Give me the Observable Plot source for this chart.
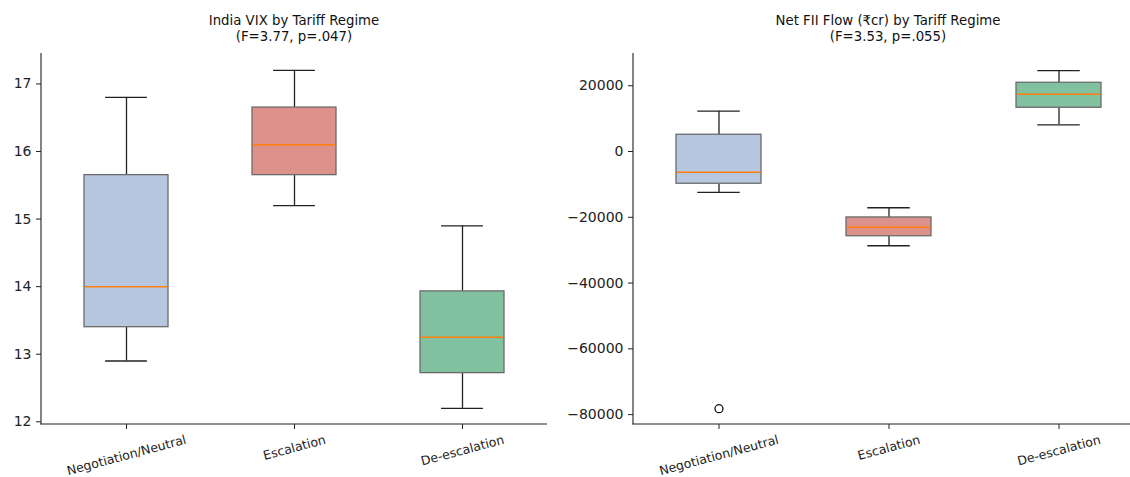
<!DOCTYPE html>
<html><head><meta charset="utf-8">
<script src="https://cdn.jsdelivr.net/npm/d3@7"></script>
<script src="https://cdn.jsdelivr.net/npm/@observablehq/plot@0.6"></script>
<style>
html,body{margin:0;padding:0;background:#fff;overflow:hidden;width:1130px;height:477px;}
#wrap{position:relative;width:1130px;height:477px;overflow:hidden;font-family:"DejaVu Sans",sans-serif;}
.panel{position:absolute;top:0;}
.title{position:absolute;top:13px;width:420px;text-align:center;font-size:13.3px;line-height:16px;color:#111;white-space:nowrap;}
</style></head><body><div id="wrap"></div>
<script>
// ---- data ----
const categories = ["Negotiation/Neutral", "Escalation", "De-escalation"];
const boxColors = ["#b7c7e0", "#dc918a", "#82c1a0"];

const vixTitle = ["India VIX by Tariff Regime", "(F=3.77, p=.047)"];
const vixWhiskerLow = [12.9, 15.2, 12.2];
const vixQ1 = [13.4, 15.65, 12.72];
const vixMedian = [14.0, 16.1, 13.25];
const vixQ3 = [15.65, 16.65, 13.93];
const vixWhiskerHigh = [16.8, 17.2, 14.9];
const vixOutlierCats = [];
const vixOutlierValues = [];
const vixTicks = [12, 13, 14, 15, 16, 17];

const fiiTitle = ["Net FII Flow (₹cr) by Tariff Regime", "(F=3.53, p=.055)"];
const fiiWhiskerLow = [-12450, -28650, 8100];
const fiiQ1 = [-9800, -25750, 13300];
const fiiMedian = [-6300, -23000, 17400];
const fiiQ3 = [5100, -20050, 20900];
const fiiWhiskerHigh = [12250, -17100, 24600];
const fiiOutlierCats = ["Negotiation/Neutral"];
const fiiOutlierValues = [-78200];
const fiiTicks = [-80000, -60000, -40000, -20000, 0, 20000];

// ---- build ----
const wrap = document.getElementById("wrap");
const canvas = document.createElement("canvas");
const ctx = canvas.getContext("2d");
const LABEL_FS = 12.5;
ctx.font = `${LABEL_FS}px "DejaVu Sans"`;

function stats(lo, q1, med, q3, hi) {
  return categories.map((c, i) => ({cat: c, lo: lo[i], q1: q1[i], med: med[i], q3: q3[i], hi: hi[i], color: boxColors[i]}));
}

function spines(index, scales, values, dims) {
  const g = d3.create("svg:g").attr("stroke", "#222").attr("stroke-width", 1.1);
  const x0 = dims.marginLeft, x1 = dims.width - dims.marginRight;
  const y0 = dims.marginTop, y1 = dims.height - dims.marginBottom;
  g.append("line").attr("x1", x0).attr("x2", x0).attr("y1", y0).attr("y2", y1 + 0.5);
  g.append("line").attr("x1", x0 - 0.5).attr("x2", x1).attr("y1", y1).attr("y2", y1);
  return g.node();
}

function panel({left, width, marginLeft, marginRight, yDomain, ticks, tickFormat, data, outliers, title}) {
  const sin = Math.sin(15 * Math.PI / 180), cos = Math.cos(15 * Math.PI / 180);
  const labelMarks = categories.map(c => {
    const w = ctx.measureText(c).width;
    const half = (w * sin + LABEL_FS * cos) / 2;
    return Plot.text([c], {x: d => d, text: d => d, frameAnchor: "bottom", dy: 9 + half,
      rotate: -15, textAnchor: "middle", lineAnchor: "middle", fontSize: LABEL_FS, fill: "#222"});
  });
  const bw = (width - marginLeft - marginRight) / 3 * 0.5;
  const chart = Plot.plot({
    width, height: 477,
    marginLeft, marginRight, marginTop: 53, marginBottom: 53,
    style: {fontFamily: "DejaVu Sans", background: "transparent", overflow: "visible"},
    x: {type: "band", domain: categories, paddingInner: 0.5, paddingOuter: 0.25, label: null},
    y: {domain: yDomain, label: null},
    marks: [
      Plot.ruleX(data, {x: "cat", y1: "q3", y2: "hi", stroke: "#222", strokeWidth: 1.3}),
      Plot.ruleX(data, {x: "cat", y1: "lo", y2: "q1", stroke: "#222", strokeWidth: 1.3}),
      Plot.tickY(data, {x: "cat", y: "hi", stroke: "#222", strokeWidth: 1.3, insetLeft: bw / 4, insetRight: bw / 4}),
      Plot.tickY(data, {x: "cat", y: "lo", stroke: "#222", strokeWidth: 1.3, insetLeft: bw / 4, insetRight: bw / 4}),
      Plot.barY(data, {x: "cat", y1: "q1", y2: "q3", fill: "color", stroke: "#6b6b6b", strokeWidth: 1.3}),
      Plot.tickY(data, {x: "cat", y: "med", stroke: "#ff7f0e", strokeWidth: 1.5, insetLeft: 0.6, insetRight: 0.6}),
      Plot.dot(outliers, {x: "cat", y: "value", r: 4, fill: "none", stroke: "#111", strokeWidth: 1.3}),
      Plot.axisY({ticks, tickFormat, tickSize: 5, tickPadding: 5, fontSize: 14, color: "#222", label: null}),
      Plot.axisX({tickSize: 5, tickFormat: () => "", color: "#222", label: null}),
      ...labelMarks,
      spines
    ]
  });
  chart.classList.add("panel");
  chart.style.left = left + "px";
  wrap.appendChild(chart);
  const t = document.createElement("div");
  t.className = "title";
  const center = left + marginLeft + (width - marginLeft - marginRight) / 2;
  t.style.left = (center - 210) + "px";
  t.innerHTML = title.map(s => `<div>${s}</div>`).join("");
  wrap.appendChild(t);
}

const minusFmt = d => d < 0 ? "\u2212" + Math.abs(d) : String(d);

panel({
  left: 0, width: 560, marginLeft: 41, marginRight: 13,
  yDomain: [11.96, 17.45], ticks: vixTicks, tickFormat: d => String(d),
  data: stats(vixWhiskerLow, vixQ1, vixMedian, vixQ3, vixWhiskerHigh),
  outliers: vixOutlierCats.map((c, i) => ({cat: c, value: vixOutlierValues[i]})),
  title: vixTitle
});
panel({
  left: 560, width: 590, marginLeft: 73, marginRight: 7,
  yDomain: [-83000, 29800], ticks: fiiTicks, tickFormat: minusFmt,
  data: stats(fiiWhiskerLow, fiiQ1, fiiMedian, fiiQ3, fiiWhiskerHigh),
  outliers: fiiOutlierCats.map((c, i) => ({cat: c, value: fiiOutlierValues[i]})),
  title: fiiTitle
});
</script>
</body></html>
